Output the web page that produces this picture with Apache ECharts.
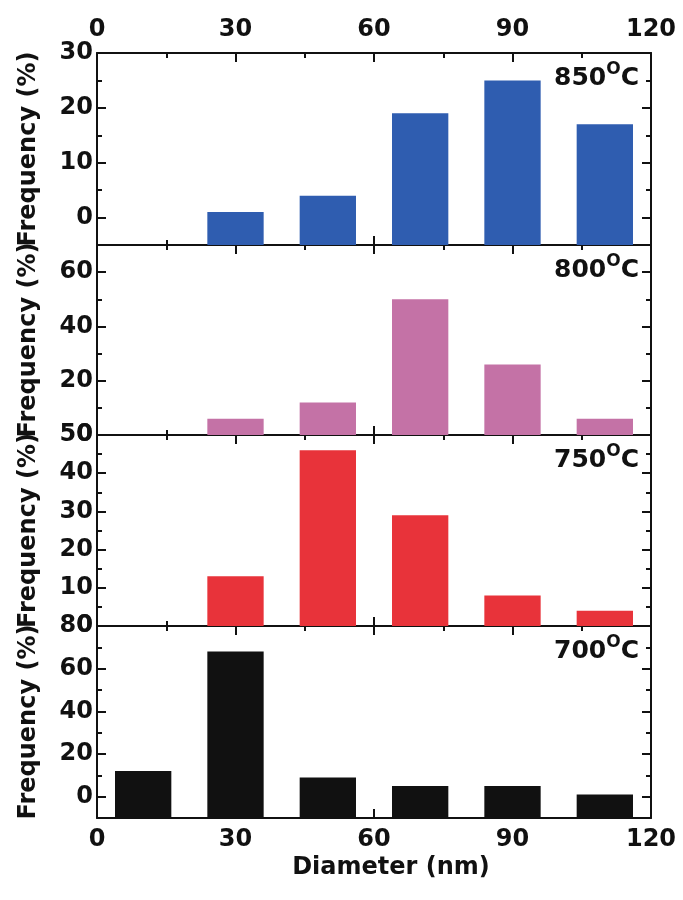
<!DOCTYPE html>
<html>
<head>
<meta charset="utf-8">
<script src="https://cdn.jsdelivr.net/npm/echarts@6/dist/echarts.min.js"></script>
<style>
  html, body { margin: 0; padding: 0; background: #ffffff; }
  #chart { width: 683px; height: 900px; }
</style>
</head>
<body>
<div id="chart"></div>
<script>
// Particle diameter distributions at four growth temperatures
const diameterBins = [10, 30, 50, 70, 90, 110];      // bin centres (nm)
const xTicks = [0, 30, 60, 90, 120];

const temps = ['850', '800', '750', '700'];
const freq850 = [null, 1, 4, 19, 25, 17];
const freq800 = [null, 6, 12, 50, 26, 6];
const freq750 = [null, 13, 46, 29, 8, 4];
const freq700 = [12, 68, 9, 5, 5, 1];

// y ranges and tick values per panel (top to bottom)
const yMins = [-5, 0, 0, -10];
const yMaxs = [30, 70, 50, 80];
const yMajor850 = [0, 10, 20, 30];
const yMinor850 = [5, 15, 25];
const yMajor800 = [0, 20, 40, 60];
const yMinor800 = [10, 30, 50];
const yMajor750 = [0, 10, 20, 30, 40, 50];
const yMinor750 = [5, 15, 25, 35, 45];
const yMajor700 = [0, 20, 40, 60, 80];
const yMinor700 = [-10, 10, 30, 50, 70];

const panelFreqs = [freq850, freq800, freq750, freq700];
const panelMajors = [yMajor850, yMajor800, yMajor750, yMajor700];
const panelMinors = [yMinor850, yMinor800, yMinor750, yMinor700];
const colors = ['#2f5db0', '#c472a6', '#e8333a', '#111111'];

const BIN_HALF = 6.1;
const FONT = 'DejaVu Sans';
const INK = '#111111';

const gridTops = [53, 245, 435, 626];
const gridHeights = [192, 190, 191, 192];

const chart = echarts.init(document.getElementById('chart'), null, { renderer: 'canvas' });

const grids = [], xAxes = [], yAxes = [], series = [], titles = [];

const lineStyle = { color: INK, width: 2 };
const labelStyle = { color: INK, fontFamily: FONT, fontWeight: 'bold', fontSize: 24 };

for (let i = 0; i < 4; i++) {
  grids.push({ left: 97, right: 32, top: gridTops[i], height: gridHeights[i], containLabel: false });

  ['bottom', 'top'].forEach(function (pos) {
    const showLabel = (pos === 'bottom' && i === 3) || (pos === 'top' && i === 0);
    const ax = {
      type: 'value', gridIndex: i, position: pos,
      min: 0, max: 120, interval: 30,
      axisLine: { show: true, onZero: false, lineStyle: lineStyle },
      axisTick: { show: true, inside: true, length: 9, lineStyle: lineStyle },
      minorTick: { show: true, splitNumber: 2, length: 5, lineStyle: lineStyle },
      splitLine: { show: false },
      axisLabel: Object.assign({ show: showLabel, margin: pos === 'top' ? 11 : 10 }, labelStyle)
    };
    if (pos === 'bottom' && i === 3) {
      ax.name = 'Diameter (nm)';
      ax.nameLocation = 'middle';
      ax.nameGap = 38;
      ax.nameTextStyle = { color: INK, fontFamily: FONT, fontWeight: 'bold', fontSize: 24, padding: [0, 0, 0, 34] };
    }
    xAxes.push(ax);
  });

  const base = yAxes.length;
  ['left', 'right'].forEach(function (pos) {
    // major ticks (with labels on the left)
    const major = {
      type: 'value', gridIndex: i, position: pos,
      min: yMins[i], max: yMaxs[i],
      axisLine: { show: true, onZero: false, lineStyle: lineStyle },
      axisTick: { show: true, inside: true, length: 9, lineStyle: lineStyle, customValues: panelMajors[i] },
      splitLine: { show: false },
      axisLabel: Object.assign({ show: pos === 'left', margin: 4, customValues: panelMajors[i] }, labelStyle)
    };
    if (pos === 'left') {
      major.name = 'Frequency (%)';
      major.nameLocation = 'middle';
      major.nameGap = 56;
      major.nameTextStyle = { color: INK, fontFamily: FONT, fontWeight: 'bold', fontSize: 24 };
    }
    yAxes.push(major);
    // minor ticks
    yAxes.push({
      type: 'value', gridIndex: i, position: pos,
      min: yMins[i], max: yMaxs[i],
      axisLine: { show: false, onZero: false },
      axisTick: { show: true, inside: true, length: 5, lineStyle: lineStyle, customValues: panelMinors[i] },
      splitLine: { show: false },
      axisLabel: { show: false }
    });
  });

  const data = [];
  diameterBins.forEach(function (d, k) {
    const v = panelFreqs[i][k];
    if (v !== null) data.push([d, v]);
  });
  const yMin = yMins[i];
  const color = colors[i];
  series.push({
    type: 'custom',
    xAxisIndex: i * 2,
    yAxisIndex: base,
    clip: true,
    data: data,
    renderItem: function (params, api) {
      const x = api.value(0), y = api.value(1);
      const p1 = api.coord([x - BIN_HALF, y]);
      const p2 = api.coord([x + BIN_HALF, yMin]);
      return {
        type: 'rect',
        shape: { x: p1[0], y: p1[1], width: p2[0] - p1[0], height: p2[1] - p1[1] },
        style: { fill: color }
      };
    }
  });

  titles.push({
    text: '{n|' + temps[i] + '}{s|O}{n|C}',
    right: 39,
    top: gridTops[i] + 3,
    textStyle: {
      rich: {
        n: { fontFamily: FONT, fontWeight: 'bold', fontSize: 25, color: INK, lineHeight: 30, verticalAlign: 'bottom' },
        s: { fontFamily: FONT, fontWeight: 'bold', fontSize: 17, color: INK, lineHeight: 16, verticalAlign: 'top' }
      }
    }
  });
}

chart.setOption({
  backgroundColor: '#ffffff',
  animation: false,
  title: titles,
  grid: grids,
  xAxis: xAxes,
  yAxis: yAxes,
  series: series
});
</script>
</body>
</html>
